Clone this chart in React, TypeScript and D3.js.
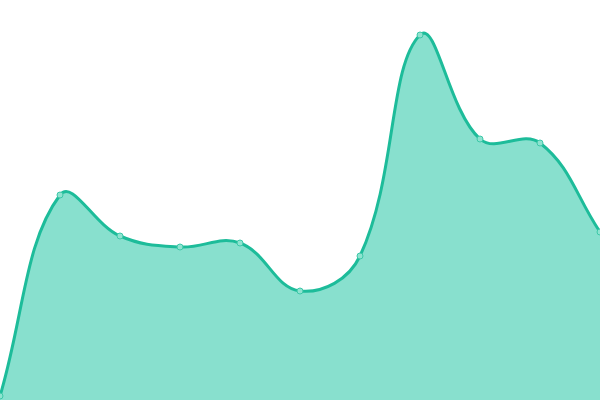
import React from "react";
import * as d3 from "d3";

const categories = ["0", "1", "2", "3", "4", "5", "6", "7", "8", "9", "10"];
const values = [4, 205, 164, 153, 157, 109, 144, 365, 261, 257, 168];

const W = 600;
const H = 400;

// Spline curve with tension (control points scaled by neighbour segment lengths), usable by d3.line / d3.area
class TensionSpline {
  _ctx: any;
  _t: number;
  _line: number = NaN;
  _xs: number[] = [];
  _ys: number[] = [];
  constructor(ctx: any, t: number) {
    this._ctx = ctx;
    this._t = t;
  }
  areaStart() {
    this._line = 0;
  }
  areaEnd() {
    this._line = NaN;
  }
  lineStart() {
    this._xs = [];
    this._ys = [];
  }
  point(x: number, y: number) {
    this._xs.push(+x);
    this._ys.push(+y);
  }
  lineEnd() {
    const xs = this._xs;
    const ys = this._ys;
    const n = xs.length;
    const t = this._t;
    const c = this._ctx;
    const clampX = (v: number) => Math.max(0, Math.min(W, v));
    const clampY = (v: number) => Math.max(0, Math.min(H, v));
    if (n) {
      if (this._line) c.lineTo(xs[0], ys[0]);
      else c.moveTo(xs[0], ys[0]);
      const cp: { px: number; py: number; nx: number; ny: number }[] = [];
      for (let i = 0; i < n; i++) {
        const pi = Math.max(0, i - 1);
        const ni = Math.min(n - 1, i + 1);
        const d01 = Math.hypot(xs[i] - xs[pi], ys[i] - ys[pi]);
        const d12 = Math.hypot(xs[ni] - xs[i], ys[ni] - ys[i]);
        let s01 = d01 / (d01 + d12);
        let s12 = d12 / (d01 + d12);
        if (isNaN(s01)) s01 = 0;
        if (isNaN(s12)) s12 = 0;
        const fa = t * s01;
        const fb = t * s12;
        const vx = xs[ni] - xs[pi];
        const vy = ys[ni] - ys[pi];
        cp.push({
          px: clampX(xs[i] - fa * vx),
          py: clampY(ys[i] - fa * vy),
          nx: clampX(xs[i] + fb * vx),
          ny: clampY(ys[i] + fb * vy),
        });
      }
      for (let i = 1; i < n; i++) {
        c.bezierCurveTo(cp[i - 1].nx, cp[i - 1].ny, cp[i].px, cp[i].py, xs[i], ys[i]);
      }
    }
    if (this._line || (this._line !== 0 && n === 1)) c.closePath();
    this._line = 1 - this._line;
  }
}

const spline = (ctx: any) => new TensionSpline(ctx, 0.4);

export default function App() {
  const x = d3.scalePoint<string>().domain(categories).range([0, W]);
  const y = d3.scaleLinear().domain([0, 400]).range([H, 0]);
  const pts: [number, number][] = values.map((v, i) => [x(categories[i]) as number, y(v)]);
  const area = d3
    .area<[number, number]>()
    .x((d) => d[0])
    .y0(H)
    .y1((d) => d[1])
    .curve(spline as any);
  const line = d3
    .line<[number, number]>()
    .x((d) => d[0])
    .y((d) => d[1])
    .curve(spline as any);
  return (
    <svg
      width={W}
      height={H}
      style={{ position: "fixed", left: 0, top: 0, background: "#fff" }}
    >
      <path d={area(pts) || ""} fill="#88e0ce" />
      <path d={line(pts) || ""} fill="none" stroke="#1dbc9a" strokeWidth={3} />
      {pts.map((p, i) => (
        <circle key={i} cx={p[0]} cy={p[1]} r={3} fill="#8fe3d0" stroke="#3cc8a8" strokeWidth={1} />
      ))}
    </svg>
  );
}
